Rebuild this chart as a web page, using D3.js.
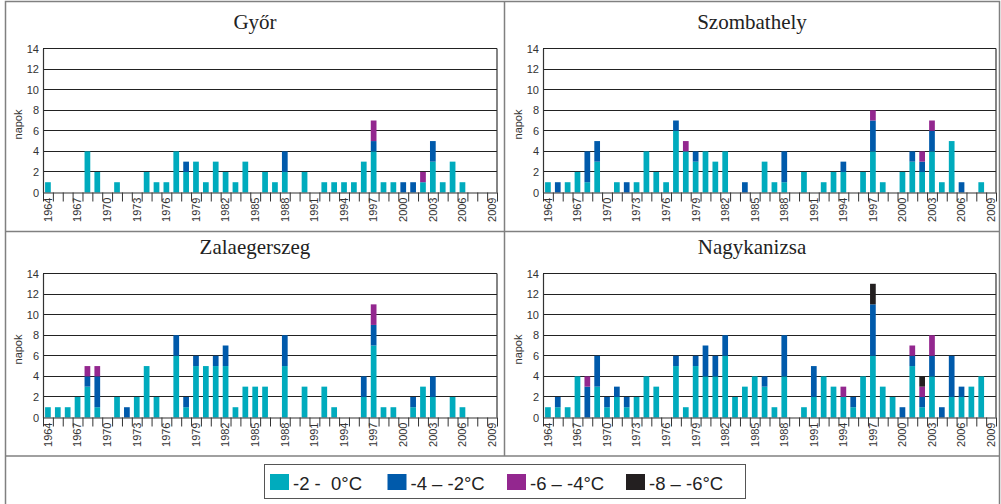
<!DOCTYPE html>
<html>
<head>
<meta charset="utf-8">
<script src="https://cdn.jsdelivr.net/npm/d3@7"></script>
<style>
  body { margin: 0; background: #fff; }
  svg { display: block; }
</style>
</head>
<body>
<script>
// Categories and ticks
var years = d3.range(1964, 2010);
var xLabels = [1964, 1967, 1970, 1973, 1976, 1979, 1982, 1985, 1988, 1991, 1994, 1997, 2000, 2003, 2006, 2009];
var yTicks = [0, 2, 4, 6, 8, 10, 12, 14];
var keys = ["-2 -  0°C", "-4 – -2°C", "-6 – -4°C", "-8 – -6°C"];
var colors = ["#00abbd", "#005aab", "#93278f", "#231f20"];

// Győr (1964..2009), one array per temperature class
var gyor0 = [1,0,0,0,4,2,0,1,0,0, 2,1,1,4,2,3,1,3,2,1, 3,0,2,1,2,0,2,0,1,1, 1,1,3,4,1,1,0,0,1,3, 1,3,1,0,0,0];
var gyor1 = [0,0,0,0,0,0,0,0,0,0, 0,0,0,0,1,0,0,0,0,0, 0,0,0,0,2,0,0,0,0,0, 0,0,0,1,0,0,1,1,0,2, 0,0,0,0,0,0];
var gyor2 = [0,0,0,0,0,0,0,0,0,0, 0,0,0,0,0,0,0,0,0,0, 0,0,0,0,0,0,0,0,0,0, 0,0,0,2,0,0,0,0,1,0, 0,0,0,0,0,0];
var gyor3 = [0,0,0,0,0,0,0,0,0,0, 0,0,0,0,0,0,0,0,0,0, 0,0,0,0,0,0,0,0,0,0, 0,0,0,0,0,0,0,0,0,0, 0,0,0,0,0,0];

// Szombathely
var szomb0 = [1,0,1,2,1,3,0,1,0,1, 4,2,1,6,4,3,4,3,4,0, 0,0,3,1,1,0,2,0,1,2, 2,0,2,4,1,0,2,3,2,4, 1,5,0,0,1,0];
var szomb1 = [0,1,0,0,3,2,0,0,1,0, 0,0,0,1,0,1,0,0,0,0, 1,0,0,0,3,0,0,0,0,0, 1,0,0,3,0,0,0,1,1,2, 0,0,1,0,0,0];
var szomb2 = [0,0,0,0,0,0,0,0,0,0, 0,0,0,0,1,0,0,0,0,0, 0,0,0,0,0,0,0,0,0,0, 0,0,0,1,0,0,0,0,1,1, 0,0,0,0,0,0];
var szomb3 = [0,0,0,0,0,0,0,0,0,0, 0,0,0,0,0,0,0,0,0,0, 0,0,0,0,0,0,0,0,0,0, 0,0,0,0,0,0,0,0,0,0, 0,0,0,0,0,0];

// Zalaegerszeg
var zala0 = [1,1,1,2,3,1,0,2,0,2, 5,2,0,6,1,5,5,5,5,1, 3,3,3,0,5,0,3,0,3,1, 0,0,2,7,1,1,0,1,3,2, 0,2,1,0,0,0];
var zala1 = [0,0,0,0,1,3,0,0,1,0, 0,0,0,2,1,1,0,1,2,0, 0,0,0,0,3,0,0,0,0,0, 0,0,2,2,0,0,0,1,0,2, 0,0,0,0,0,0];
var zala2 = [0,0,0,0,1,1,0,0,0,0, 0,0,0,0,0,0,0,0,0,0, 0,0,0,0,0,0,0,0,0,0, 0,0,0,2,0,0,0,0,0,0, 0,0,0,0,0,0];
var zala3 = [0,0,0,0,0,0,0,0,0,0, 0,0,0,0,0,0,0,0,0,0, 0,0,0,0,0,0,0,0,0,0, 0,0,0,0,0,0,0,0,0,0, 0,0,0,0,0,0];

// Nagykanizsa
var nagy0 = [1,1,1,4,0,3,1,2,1,2, 4,3,0,5,1,5,4,4,6,2, 3,4,3,1,4,0,1,2,4,3, 2,1,4,6,3,2,0,5,1,4, 0,2,2,3,4,0];
var nagy1 = [0,1,0,0,3,3,1,1,1,0, 0,0,0,1,0,1,3,2,2,0, 0,0,1,0,4,0,0,3,0,0, 0,1,0,5,0,0,1,1,1,2, 1,4,1,0,0,0];
var nagy2 = [0,0,0,0,1,0,0,0,0,0, 0,0,0,0,0,0,0,0,0,0, 0,0,0,0,0,0,0,0,0,0, 1,0,0,0,0,0,0,1,1,2, 0,0,0,0,0,0];
var nagy3 = [0,0,0,0,0,0,0,0,0,0, 0,0,0,0,0,0,0,0,0,0, 0,0,0,0,0,0,0,0,0,0, 0,0,0,2,0,0,0,0,1,0, 0,0,0,0,0,0];

var stations = [
  { name: "Győr", series: [gyor0, gyor1, gyor2, gyor3] },
  { name: "Szombathely", series: [szomb0, szomb1, szomb2, szomb3] },
  { name: "Zalaegerszeg", series: [zala0, zala1, zala2, zala3] },
  { name: "Nagykanizsa", series: [nagy0, nagy1, nagy2, nagy3] }
];

var W = 1001, H = 504;
var svg = d3.select("body").append("svg").attr("width", W).attr("height", H);
svg.append("rect").attr("width", W).attr("height", H).attr("fill", "#fff");

// frame of the table
var frame = svg.append("g").attr("stroke", "#808080").attr("stroke-width", 1.5).attr("fill", "none");
frame.append("rect").attr("x", 5.5).attr("y", 1.5).attr("width", 994).attr("height", 510);
frame.append("line").attr("x1", 5.5).attr("x2", 999.5).attr("y1", 231.5).attr("y2", 231.5);
frame.append("line").attr("x1", 5.5).attr("x2", 999.5).attr("y1", 456).attr("y2", 456);
frame.append("line").attr("x1", 504.5).attr("x2", 504.5).attr("y1", 1.5).attr("y2", 456);

// panel geometry
var cellX = [5.5, 504.5], cellW = [499, 495];
var plotX = [[43, 497], [543, 996]];
var plotY = [[48.5, 192.5], [273.5, 417.5]];

stations.forEach(function (st, k) {
  var col = k % 2, row = Math.floor(k / 2);
  var x0 = plotX[col][0], x1 = plotX[col][1];
  var yT = plotY[row][0], yB = plotY[row][1];

  var x = d3.scaleBand().domain(years).range([x0, x1]).paddingInner(0.42).paddingOuter(0.21);
  var xi = d3.scaleLinear().domain([0, years.length]).range([x0, x1]);
  var y = d3.scaleLinear().domain([0, 14]).range([yB, yT]);

  var g = svg.append("g");

  // title
  g.append("text")
    .attr("x", cellX[col] + cellW[col] / 2)
    .attr("y", yT - 20)
    .attr("text-anchor", "middle")
    .style("font-family", "'Liberation Serif', 'Times New Roman', serif")
    .style("font-size", "21px")
    .attr("fill", "#222")
    .text(st.name);

  // gridlines
  g.selectAll(".grid")
    .data(yTicks.filter(function (d) { return d > 0; }))
    .enter().append("line")
    .attr("x1", x0).attr("x2", x1)
    .attr("y1", function (d) { return y(d); })
    .attr("y2", function (d) { return y(d); })
    .attr("stroke", "#222").attr("stroke-width", 1)
    .attr("shape-rendering", "crispEdges");

  // stacked bars
  var rows = years.map(function (yr, i) {
    var o = { year: yr };
    keys.forEach(function (key, j) { o[key] = st.series[j][i]; });
    return o;
  });
  var stacked = d3.stack().keys(keys)(rows);
  g.selectAll(".layer")
    .data(stacked)
    .enter().append("g")
    .attr("fill", function (d, j) { return colors[j]; })
    .selectAll("rect")
    .data(function (d) { return d.filter(function (p) { return p[1] > p[0]; }); })
    .enter().append("rect")
    .attr("x", function (d) { return x(d.data.year); })
    .attr("width", x.bandwidth())
    .attr("y", function (d) { return y(d[1]); })
    .attr("height", function (d) { return y(d[0]) - y(d[1]); });

  // right border of plot
  g.append("line").attr("x1", x1).attr("x2", x1).attr("y1", yT).attr("y2", yB)
    .attr("stroke", "#333").attr("stroke-width", 1.2);

  // y axis
  var ya = g.append("g").attr("transform", "translate(" + x0 + ",0)")
    .call(d3.axisLeft(y).tickValues(yTicks).tickSize(0).tickPadding(4));
  ya.select(".domain").attr("stroke", "#333").attr("stroke-width", 1.2);
  ya.selectAll("text").style("font-family", "'Liberation Sans', Arial, sans-serif")
    .style("font-size", "11px").attr("fill", "#333");

  // x axis: ticks at category boundaries
  var xt = g.append("g").attr("transform", "translate(0," + yB + ")")
    .call(d3.axisBottom(xi).tickValues(d3.range(years.length + 1)).tickSize(9).tickSizeOuter(0).tickFormat(""));
  xt.select(".domain").attr("stroke", "#333").attr("stroke-width", 1.2);
  xt.selectAll(".tick line").attr("stroke", "#333");

  // x axis labels every third year
  var xl = g.append("g").attr("transform", "translate(0," + yB + ")")
    .call(d3.axisBottom(x).tickValues(xLabels).tickSize(0));
  xl.select(".domain").remove();
  xl.selectAll("text")
    .attr("transform", "rotate(-90)")
    .attr("x", -5).attr("y", 0).attr("dy", "0.35em")
    .style("text-anchor", "end")
    .style("font-family", "'Liberation Sans', Arial, sans-serif")
    .style("font-size", "11px").attr("fill", "#333");

  // y axis title
  g.append("text")
    .attr("transform", "translate(" + (x0 - 21) + "," + ((yT + yB) / 2 + 4) + ") rotate(-90)")
    .attr("text-anchor", "middle")
    .style("font-family", "'Liberation Sans', Arial, sans-serif")
    .style("font-size", "11px").attr("fill", "#333")
    .text("napok");
});

// legend
var legend = svg.append("g");
legend.append("rect").attr("x", 264.5).attr("y", 464.5).attr("width", 481).attr("height", 34)
  .attr("fill", "none").attr("stroke", "#555").attr("stroke-width", 1);
var legX = [270, 387.5, 507, 626];
keys.forEach(function (key, j) {
  legend.append("rect").attr("x", legX[j]).attr("y", 474).attr("width", 19).attr("height", 16)
    .attr("fill", colors[j]);
  legend.append("text").attr("x", legX[j] + 23).attr("y", 490)
    .style("font-family", "'Liberation Sans', Arial, sans-serif")
    .style("font-size", "18.5px").style("white-space", "pre").attr("fill", "#222")
    .text(key);
});
</script>
</body>
</html>
